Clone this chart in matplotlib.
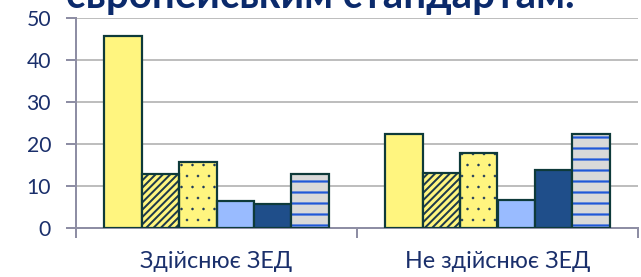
import matplotlib
matplotlib.use('Agg')
import matplotlib.pyplot as plt
import numpy as np

# ---- data ----
categories = ['Здійснює ЗЕД', 'Не здійснює ЗЕД']
series1 = [45.6, 22.5]
series2 = [12.9, 13.2]
series3 = [15.8, 17.9]
series4 = [6.4, 6.6]
series5 = [5.8, 13.8]
series6 = [12.9, 22.3]
yticks = [0, 10, 20, 30, 40, 50]
title_text = 'європейським стандартам.'

DPI = 66
W, H = 641, 277
def px(v):
    return v * 72.0 / DPI

plt.rcParams['font.family'] = ['Lato', 'DejaVu Sans']

fig = plt.figure(figsize=(W / DPI, H / DPI), dpi=DPI)
ax = fig.add_axes([76 / W, 1 - 228 / H, (638 - 76) / W, (228 - 18) / H])

edge = '#0E3A3A'
yellow = '#FFF57F'
styles = [
    dict(fc=yellow, hatch=None, hc=None, hlw=1),
    dict(fc=yellow, hatch='///', hc='#1E3A4A', hlw=2.0),
    dict(fc=yellow, hatch='.', hc='#1E3A5A', hlw=0.3),
    dict(fc='#99BBFF', hatch=None, hc=None, hlw=1),
    dict(fc='#1F4E8A', hatch=None, hc=None, hlw=1),
    dict(fc='#D9D9D9', hatch='-', hc='#2058D8', hlw=2.2),
]
series = [series1, series2, series3, series4, series5, series6]

x = np.arange(len(categories))
n = len(series)
bw = 0.8 / n
for j, (vals, st) in enumerate(zip(series, styles)):
    pos = x + (j - (n - 1) / 2) * bw
    if st['hatch']:
        with plt.rc_context({'hatch.linewidth': px(st['hlw'])}):
            bars = ax.bar(pos, vals, bw, color=st['fc'], edgecolor=st['hc'],
                          hatch=st['hatch'], linewidth=0, zorder=3)
            for b in bars:
                if hasattr(b, 'set_hatch_linewidth'):
                    b.set_hatch_linewidth(px(st['hlw']))
        ax.bar(pos, vals, bw, fill=False, edgecolor=edge, linewidth=px(2.2), zorder=4)
    else:
        ax.bar(pos, vals, bw, color=st['fc'], edgecolor=edge, linewidth=px(2.2), zorder=3)

ax.set_xlim(-0.5, len(categories) - 0.5)
ax.set_ylim(0, 50)
ax.set_yticks(yticks)
ax.set_yticklabels([str(t) for t in yticks])
ax.yaxis.grid(True, color='#BEBEBE', linewidth=px(2), zorder=0)
ax.set_axisbelow(True)

ax.set_xticks(x)
ax.set_xticklabels(categories)
ax.set_xticks(np.arange(len(categories) + 1) - 0.5, minor=True)

label_color = '#1A2F6B'
spine_color = '#8E8EA4'
ax.tick_params(axis='y', length=px(10), width=px(2), color=spine_color, pad=px(15),
               labelsize=23, labelcolor=label_color)
ax.tick_params(axis='x', which='major', length=0, pad=px(23),
               labelsize=25.5, labelcolor=label_color)
ax.tick_params(axis='x', which='minor', length=px(10), width=px(2), color=spine_color)

for s in ['top', 'right']:
    ax.spines[s].set_visible(False)
for s in ['left', 'bottom']:
    ax.spines[s].set_color(spine_color)
    ax.spines[s].set_linewidth(px(2))

# title, clipped at top of figure
t = fig.text(66 / W, 1 - 8 / H, title_text, ha='left', va='baseline',
             fontweight='bold', fontsize=40, color='#0B2A6B')
fig.canvas.draw()
bb = t.get_window_extent()
target = 506
t.set_fontsize(40 * target / bb.width)

fig.savefig('out.png', dpi=DPI)
